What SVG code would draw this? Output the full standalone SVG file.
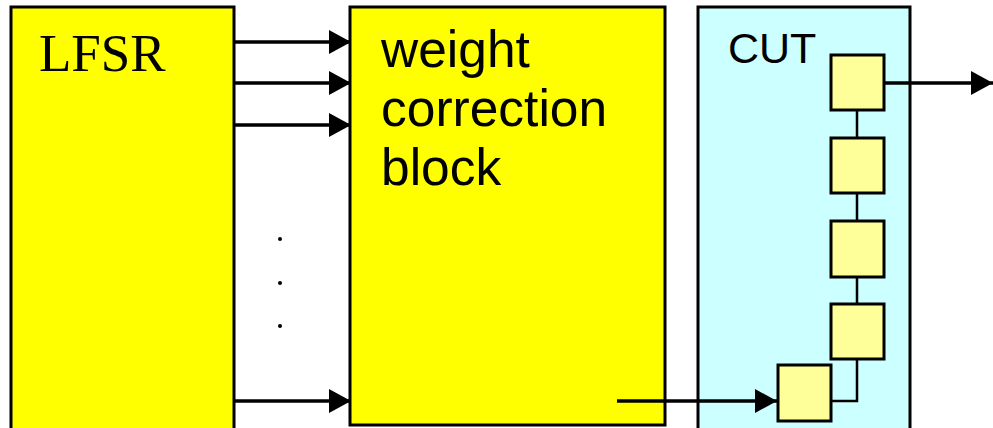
<svg xmlns="http://www.w3.org/2000/svg" width="993" height="428" viewBox="0 0 993 428">
  <style>
    .block { fill: #FFFF00; stroke: #000; stroke-width: 3; }
    .cut { fill: #CCFFFF; stroke: #000; stroke-width: 3; }
    .cell { fill: #FFFF99; stroke: #000; stroke-width: 3; }
    .wire { fill: none; stroke: #000; stroke-width: 3.5; }
    .link { fill: none; stroke: #000; stroke-width: 2.5; }
    .sans { font-family: "Liberation Sans", Arial, sans-serif; fill: #000; }
    .serif { font-family: "Liberation Serif", "Times New Roman", serif; fill: #000; }
  </style>
  <defs>
    <marker id="arrow" viewBox="0 0 22 24" refX="22" refY="12" markerWidth="22" markerHeight="24" markerUnits="userSpaceOnUse" orient="auto">
      <path d="M0,0 L22,12 L0,24 Z" fill="#000"/>
    </marker>
  </defs>
  <rect width="993" height="428" fill="#fff"/>

  <g id="lfsr">
    <rect class="block" x="11" y="7" width="223" height="430"/>
    <text class="serif" x="39" y="71" font-size="53">LFSR</text>
  </g>

  <g id="weight-correction">
    <rect class="block" x="350" y="7" width="315" height="418"/>
    <text class="sans" font-size="51.5">
      <tspan x="381" y="67">weight</tspan>
      <tspan x="381" y="126">correction</tspan>
      <tspan x="381" y="185">block</tspan>
    </text>
  </g>

  <g id="cut">
    <rect class="cut" x="698" y="7" width="212" height="430"/>
    <text class="sans" x="728" y="63" font-size="43">CUT</text>
  </g>

  <g id="chain-links">
    <line class="link" x1="857" y1="110" x2="857" y2="138"/>
    <line class="link" x1="857" y1="193" x2="857" y2="221"/>
    <line class="link" x1="857" y1="277" x2="857" y2="304"/>
    <polyline class="link" points="857,359 857,401 831,401"/>
  </g>

  <g id="cell-1"><rect class="cell" x="831" y="55" width="53" height="55"/></g>
  <g id="cell-2"><rect class="cell" x="831" y="138" width="53" height="55"/></g>
  <g id="cell-3"><rect class="cell" x="831" y="221" width="53" height="56"/></g>
  <g id="cell-4"><rect class="cell" x="831" y="304" width="53" height="55"/></g>
  <g id="cell-in"><rect class="cell" x="778" y="365" width="53" height="56"/></g>

  <g id="connectors">
    <line class="wire" x1="234" y1="42" x2="351" y2="42" marker-end="url(#arrow)"/>
    <line class="wire" x1="234" y1="83" x2="351" y2="83" marker-end="url(#arrow)"/>
    <line class="wire" x1="234" y1="125" x2="351" y2="125" marker-end="url(#arrow)"/>
    <line class="wire" x1="234" y1="401" x2="351" y2="401" marker-end="url(#arrow)"/>
    <line class="wire" x1="617" y1="401" x2="777" y2="401" marker-end="url(#arrow)"/>
    <line class="wire" x1="884" y1="83" x2="993" y2="83" marker-end="url(#arrow)"/>
    <circle cx="280" cy="239" r="2"/>
    <circle cx="280" cy="283" r="2"/>
    <circle cx="280" cy="326" r="2"/>
  </g>
</svg>
